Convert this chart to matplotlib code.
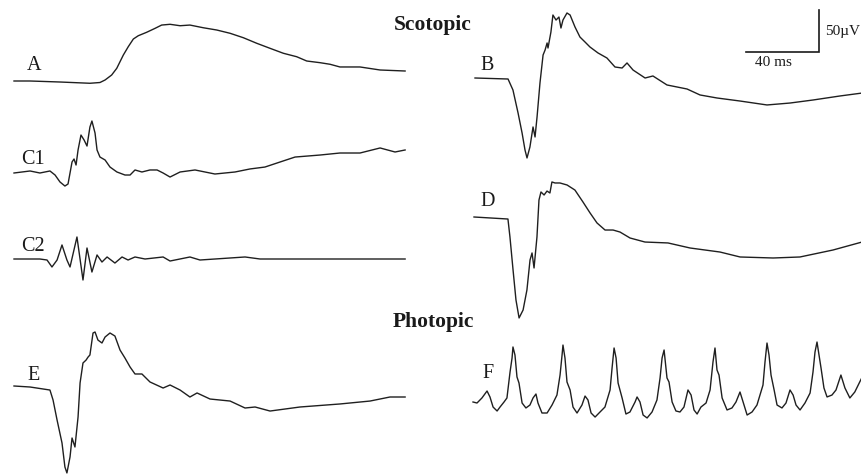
import matplotlib
matplotlib.use("Agg")
import matplotlib.pyplot as plt

# ---------------- data (time in ms from trace start, amplitude in µV re. baseline) ----------------
A_t = [0, 8.8, 25.2, 41.6, 47.1, 49.9, 53.5, 56.3, 59.9, 62.6, 65.4, 68.1, 72.7, 77.3, 80.9,
       85.5, 91.0, 96.4, 103.7, 111.1, 118.4, 125.7, 133.0, 140.3, 147.6, 154.9, 160.4, 167.7,
       173.2, 178.6, 189.6, 200.6, 214.3]
A_v = [0, 0, -1.2, -2.7, -1.8, 1.2, 7.1, 15.1, 30.9, 40.8, 50.0, 53.9, 58.0, 62.7, 66.6,
       67.5, 65.8, 66.6, 63.4, 60.7, 56.8, 51.5, 44.9, 38.9, 33.0, 28.9, 23.8, 21.8,
       19.9, 16.7, 16.7, 13.1, 11.9]

C1_t = [0, 8.8, 14.2, 19.7, 22.5, 25.2, 27.9, 29.6, 31.8, 32.9, 34.0, 35.1, 36.7, 38.4, 40.0, 41.6,
        42.7, 44.4, 45.5, 47.1, 49.9, 52.6, 56.4, 60.8, 63.6, 66.3, 70.1, 74.5, 78.4, 81.7, 85.5,
        91.0, 99.2, 110.1, 121.1, 129.3, 137.5, 145.8, 154.0, 167.7, 178.6, 189.6, 200.6, 208.8, 214.3]
C1_v = [0, 2.4, 0, 2.4, -2.4, -10.7, -15.5, -13.1, 13.1, 16.7, 9.5, 27.4, 45.2, 39.3, 32.1, 54.7,
        61.9, 47.6, 27.4, 19.0, 15.5, 7.1, 1.2, -2.4, -2.4, 3.6, 1.2, 3.6, 3.6, 0, -4.8,
        1.2, 3.6, -1.2, 1.2, 4.8, 7.1, 13.1, 19.0, 21.4, 23.8, 23.8, 29.8, 25.0, 27.4]

C2_t = [0, 14.2, 18.1, 20.8, 23.6, 26.3, 29.0, 30.7, 34.5, 37.8, 40.0, 42.7, 45.5, 48.2, 51.0,
        55.3, 59.2, 62.5, 66.3, 71.8, 81.7, 85.5, 96.4, 101.9, 126.6, 134.8, 214.3]
C2_v = [0, 0, -1.2, -9.5, -1.2, 16.7, -1.2, -9.5, 26.2, -25.0, 13.1, -15.5, 4.8, -3.6, 2.4,
        -4.8, 2.4, -1.2, 2.4, 0, 2.4, -2.4, 2.4, -1.2, 2.4, 0, 0]

E_t = [0, 8.8, 19.7, 21.4, 23.6, 26.3, 27.9, 29.0, 30.7, 31.8, 33.4, 35.1, 36.2, 37.8, 39.5, 40.6,
       41.6, 43.3, 44.4, 46.0, 48.2, 49.9, 52.6, 55.3, 58.1, 60.8, 63.6, 66.3, 70.1, 74.5, 81.7,
       85.5, 91.0, 96.4, 100.3, 107.4, 118.4, 126.6, 132.1, 140.3, 156.7, 178.6, 195.1, 206.0, 214.3]
E_v = [0, -1.2, -4.8, -16.7, -40.5, -67.8, -96.4, -103.5, -84.5, -61.9, -72.6, -36.9, 3.6, 27.4,
       30.9, 34.5, 36.9, 63.1, 64.3, 54.7, 51.2, 58.3, 63.1, 59.5, 42.8, 33.3, 22.6, 14.3, 14.3,
       4.8, -2.4, 1.2, -4.8, -13.1, -8.3, -15.5, -17.9, -26.2, -25.0, -29.8, -25.0, -21.4, -17.9,
       -13.1, -13.1]

B_t = [0, 18.1, 20.8, 23.6, 25.8, 27.4, 28.5, 30.1, 31.8, 32.9, 34.0, 35.6, 37.3, 38.4, 39.5,
       40.0, 41.6, 42.7, 44.4, 46.0, 47.1, 48.2, 50.4, 52.1, 54.8, 57.5, 60.3, 63.0, 67.4, 72.3,
       76.7, 80.6, 83.3, 86.6, 93.2, 97.5, 105.2, 116.2, 123.3, 132.6, 145.2, 160.0, 172.6,
       185.2, 200.0, 212.1]
B_v = [0, -1.2, -14.3, -41.7, -65.5, -85.7, -95.2, -82.1, -58.3, -70.2, -46.4, -6.0, 27.4, 33.3,
       41.7, 35.7, 54.7, 75.0, 69.0, 72.6, 59.5, 69.0, 77.4, 75.0, 60.7, 48.8, 42.8, 36.9, 29.8,
       23.8, 13.1, 11.9, 17.9, 9.5, 0, 2.4, -8.3, -13.1, -20.2, -23.8, -27.4, -32.1, -29.8,
       -26.2, -21.4, -17.9]

D_t = [0, 18.6, 19.7, 21.4, 23.0, 24.7, 26.9, 29.0, 30.7, 31.8, 32.9, 34.5, 35.6, 36.7, 38.4,
       40.0, 41.6, 42.7, 44.4, 47.1, 51.0, 55.3, 59.7, 63.6, 67.4, 71.8, 76.2, 80.0, 85.5, 93.7,
       106.3, 118.4, 134.8, 145.8, 163.9, 178.6, 196.7, 212.6]
D_v = [0, -2.4, -23.8, -63.1, -98.8, -120.2, -110.7, -86.9, -51.2, -42.8, -60.7, -23.8, 20.2,
       29.8, 26.2, 30.9, 28.6, 41.7, 40.5, 40.5, 38.1, 32.1, 17.9, 4.8, -7.1, -15.5, -15.5,
       -17.9, -25.0, -29.8, -30.9, -36.9, -41.7, -47.6, -48.8, -47.6, -39.3, -29.8]

F_t = [0, 2.2, 4.9, 7.7, 9.3, 11.0, 13.2, 14.8, 17.0, 18.6, 20.3, 21.4, 21.9, 23.0, 24.1, 25.2,
       26.9, 29.0, 31.2, 32.9, 34.5, 35.6, 37.8, 40.6, 43.3, 46.0, 47.7, 48.8, 49.3, 50.4, 51.5,
       53.2, 54.8, 57.0, 59.7, 61.4, 63.0, 64.7, 66.9, 69.6, 72.3, 75.1, 76.2, 77.3, 78.4, 79.5,
       81.7, 83.8, 86.0, 88.8, 89.9, 91.5, 93.2, 95.4, 98.1, 100.8, 102.5, 103.6, 104.7, 106.3,
       107.4, 109.1, 111.2, 113.4, 115.6, 117.8, 119.5, 121.1, 122.8, 124.9, 127.7, 129.9, 131.5,
       132.6, 133.7, 134.8, 136.5, 139.2, 141.9, 144.1, 146.3, 148.0, 150.2, 152.9, 155.6, 158.9,
       160.0, 161.1, 162.2, 163.3, 165.0, 166.6, 169.3, 171.5, 173.7, 175.4, 177.0, 179.2, 181.9,
       184.7, 186.3, 187.4, 188.5, 189.6, 190.7, 192.3, 194.0, 196.7, 198.9, 201.6, 203.8, 206.5,
       209.2, 211.9, 213.0]
F_v = [0, -1.2, 4.8, 13.1, 6.0, -6.0, -10.7, -6.0, 0, 4.8, 35.7, 52.4, 65.5, 55.9, 29.8, 22.6,
       -1.2, -7.1, -3.6, 4.8, 9.5, -1.2, -13.1, -13.1, -3.6, 8.3, 32.1, 55.9, 67.8, 52.4, 23.8,
       14.3, -6.0, -13.1, -3.6, 7.1, 2.4, -13.1, -17.9, -11.9, -6.0, 14.3, 40.5, 64.3, 52.4, 22.6,
       4.8, -14.3, -11.9, 0, 6.0, 0, -15.5, -19.0, -11.9, 2.4, 28.6, 52.4, 61.9, 28.6,
       23.8, 0, -10.7, -11.9, -6.0, 14.3, 8.3, -9.5, -14.3, -6.0, -1.2, 14.3, 47.6,
       64.3, 38.1, 32.1, 4.8, -9.5, -7.1, 0, 11.9, 0, -15.5, -11.9, -3.6, 20.2,
       47.6, 70.2, 55.9, 32.1, 14.3, -3.6, -7.1, -1.2, 14.3, 8.3, -3.6, -9.5, -1.2,
       10.7, 35.7, 59.5, 71.4, 55.9, 40.5, 16.7, 6.0, 8.3, 14.3, 32.1, 16.7, 4.8,
       11.9, 23.8, 28.6]

trace_labels = ["A", "C1", "C2", "E", "B", "D", "F"]
headers = ["Scotopic", "Photopic"]
scale_ms = 40
scale_uv = 50

# ---------------- layout ----------------
W, H = 862, 475
PX_PER_MS = 1.825
PX_PER_UV = 0.84

fig = plt.figure(figsize=(W / 100, H / 100), dpi=100)
ax = fig.add_axes([0, 0, 1, 1])
ax.set_xlim(0, W / PX_PER_MS)
ax.set_ylim(-H / PX_PER_UV, 0)
ax.axis("off")

def px_x(x):
    return x / PX_PER_MS

def px_y(y):
    return -y / PX_PER_UV

traces = [
    (A_t, A_v, 14, 81),
    (C1_t, C1_v, 14, 173),
    (C2_t, C2_v, 14, 259),
    (E_t, E_v, 14, 386),
    (B_t, B_v, 475, 78),
    (D_t, D_v, 474, 217),
    (F_t, F_v, 473, 402),
]
for t, v, x0, y0 in traces:
    ax.plot([px_x(x0) + ti for ti in t], [px_y(y0) + vi for vi in v],
            color="#1f1f1f", lw=1.0, solid_joinstyle="round")

serif = ["Liberation Serif", "DejaVu Serif"]
label_pos = [(27, 66), (21, 159), (21, 246), (27, 375), (480, 65), (480, 202), (482, 374)]
for lab, (x, y) in zip(trace_labels, label_pos):
    fig.text(x / W, 1 - y / H, lab, family=serif, fontsize=14.5, ha="left", va="center",
             color="#1a1a1a")

fig.text(394 / W, 1 - 25 / H, headers[0], family=serif, fontsize=15.5, fontweight="bold",
         ha="left", va="center", color="#1a1a1a")
fig.text(393 / W, 1 - 322 / H, headers[1], family=serif, fontsize=15.5, fontweight="bold",
         ha="left", va="center", color="#1a1a1a")

# scale bar
bx, by = 819, 52
ax.plot([px_x(bx) - scale_ms, px_x(bx), px_x(bx)],
        [px_y(by), px_y(by), px_y(by) + scale_uv], color="#1a1a1a", lw=1.2,
        solid_joinstyle="miter")
fig.text(825 / W, 1 - 32 / H, f"{scale_uv}\u00b5V", family=serif, fontsize=11,
         ha="left", va="center", color="#1a1a1a")
fig.text(755 / W, 1 - 63 / H, f"{scale_ms} ms", family=serif, fontsize=11,
         ha="left", va="center", color="#1a1a1a")

fig.savefig("out.png", dpi=100, facecolor="white")
